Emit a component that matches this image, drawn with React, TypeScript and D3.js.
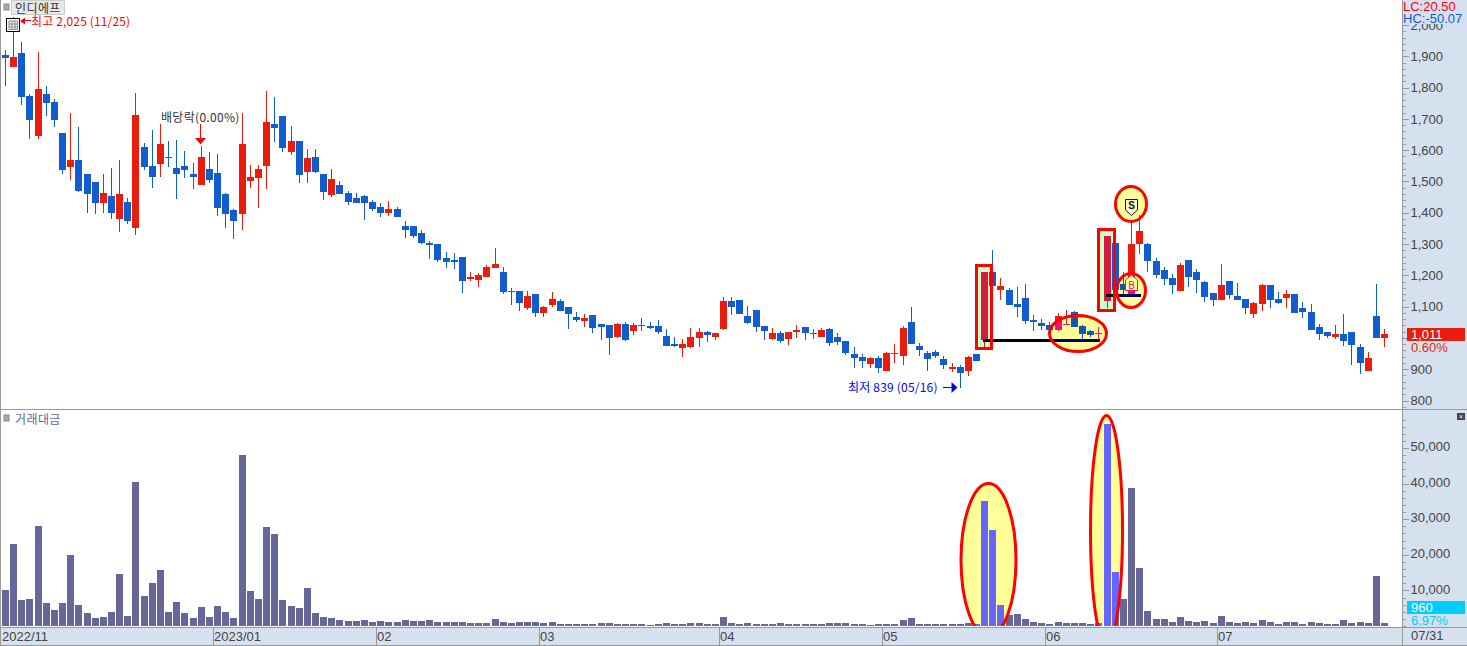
import React, { useEffect, useRef } from 'react'
import * as d3 from 'd3'

const highs = [
  1920,2025,1946,1780,1914,1805,1764,1655,1719,1674,
  1524,1498,1524,1543,1569,1447,1783,1623,1664,1683,
  1629,1632,1597,1559,1613,1594,1588,1463,1412,1719,
  1553,1553,1789,1770,1709,1677,1629,1604,1604,1524,
  1540,1501,1469,1463,1457,1441,1431,1437,1418,1373,
  1357,1345,1310,1300,1274,1271,1258,1210,1207,1233,
  1287,1226,1159,1150,1150,1140,1102,1147,1124,1099,
  1083,1076,1073,1044,1041,1048,1051,1048,1064,1051,
  1057,1028,1003,996,1032,1032,1022,1016,1131,1131,
  1121,1102,1089,1038,1032,1022,1019,1041,1035,1028,
  1032,1032,1016,990,971,948,939,942,955,980,
  1038,1099,984,958,961,942,920,913,942,948,
  1211,1281,1191,1159,1163,1172,1073,1060,1051,1080,
  1089,1086,1041,1025,1035,1326,1303,1212,1371,1393,
  1303,1255,1226,1204,1239,1249,1220,1182,1143,1236,
  1182,1175,1124,1115,1172,1169,1147,1153,1140,1115,
  1108,1044,1019,1041,1076,1019,980,955,1172,1028,
]
const lows = [
  1805,1866,1745,1636,1636,1709,1674,1524,1505,1467,
  1399,1396,1399,1380,1338,1364,1329,1536,1479,1514,
  1546,1444,1511,1476,1489,1495,1389,1351,1316,1345,
  1479,1415,1476,1626,1594,1585,1495,1495,1527,1441,
  1450,1460,1425,1431,1377,1405,1386,1389,1386,1319,
  1319,1300,1252,1242,1223,1220,1143,1182,1163,1195,
  1223,1140,1105,1086,1089,1067,1067,1099,1086,1028,
  1051,1035,1016,993,945,1000,990,1009,1022,1028,
  1012,974,971,939,968,971,987,993,1025,1073,
  1076,1044,1019,993,993,984,977,1000,993,996,
  1003,974,977,945,904,904,904,888,894,920,
  913,980,942,894,936,900,891,839,878,926,
  972,1166,1121,1105,1067,1044,1022,1025,1022,1022,
  1041,1035,993,1003,993,1096,1153,1134,1140,1268,
  1211,1191,1169,1140,1150,1163,1143,1115,1102,1121,
  1124,1121,1076,1063,1086,1095,1108,1095,1079,1063,
  1025,993,1000,996,974,913,885,894,1000,971,
]
const opens = [
  1904,1866,1911,1773,1645,1780,1754,1655,1546,1569,
  1524,1498,1431,1454,1380,1434,1351,1610,1549,1556,
  1578,1543,1549,1524,1489,1540,1527,1460,1409,1396,
  1501,1511,1549,1684,1709,1594,1629,1530,1578,1524,
  1457,1489,1463,1447,1453,1434,1418,1399,1412,1357,
  1357,1335,1303,1300,1255,1249,1258,1188,1185,1195,
  1223,1211,1150,1150,1095,1140,1080,1105,1118,1099,
  1067,1054,1073,1044,1041,1003,1044,1022,1038,1038,
  1038,1006,980,968,971,1000,1019,1003,1028,1118,
  1121,1070,1089,1038,996,1016,996,1019,1035,1013,
  1003,1028,1003,990,948,939,916,936,894,948,
  942,1051,974,952,955,932,900,907,894,948,
  993,1211,1153,1153,1108,1127,1057,1048,1041,1025,
  1041,1083,1038,1022,1014,1118,1303,1172,1140,1300,
  1300,1246,1217,1191,1150,1249,1211,1179,1143,1121,
  1182,1134,1124,1076,1108,1169,1124,1127,1140,1095,
  1083,1035,1019,1003,1012,1019,971,894,1070,1000,
]
const closes = [
  1895,1898,1770,1697,1796,1751,1697,1537,1569,1470,
  1460,1431,1463,1399,1460,1374,1712,1546,1514,1620,
  1576,1524,1536,1514,1578,1505,1415,1396,1374,1620,
  1514,1540,1690,1671,1607,1629,1521,1575,1530,1467,
  1508,1460,1434,1431,1431,1412,1399,1412,1386,1345,
  1326,1303,1297,1249,1242,1242,1182,1195,1201,1226,
  1236,1147,1147,1111,1134,1080,1099,1124,1086,1076,
  1057,1064,1032,1035,1000,1044,993,1041,1041,1032,
  1019,974,974,980,1003,1019,1009,1016,1118,1099,
  1076,1048,1035,1022,1016,990,1019,1025,1016,1016,
  1025,984,987,952,936,926,936,904,952,952,
  1032,980,961,932,942,913,907,888,939,926,
  1211,1166,1166,1105,1099,1054,1051,1038,1025,1070,
  1045,1035,1012,1009,1016,1326,1153,1153,1300,1342,
  1246,1201,1188,1169,1233,1195,1185,1131,1121,1169,
  1137,1121,1095,1111,1169,1121,1111,1140,1079,1083,
  1025,1012,1006,1012,990,977,920,936,1000,1011,
]
const volumes = [
  10140,23100,7320,7600,28170,6480,4500,6480,20000,5920,
  3660,2250,2535,3940,14650,2820,40560,8450,12110,15780,
  3940,6760,3660,2250,5350,2535,5630,3940,2250,48170,
  9860,7600,27890,25900,7320,5630,5070,10700,3660,2535,
  2250,1690,1410,1410,1690,1130,1410,1130,1130,1690,
  1410,1410,1690,1130,1130,1130,1130,845,845,845,
  1970,1130,845,1130,1130,1130,845,1130,563,563,
  563,563,563,845,845,563,563,563,563,280,
  563,845,563,563,845,845,563,563,2535,845,
  563,845,563,563,563,845,563,563,563,563,
  563,845,845,845,563,563,280,563,563,563,
  1690,2250,563,563,563,563,563,563,845,563,
  35210,27040,5920,3100,3380,1970,1130,845,563,1130,
  845,845,845,563,845,56620,15210,7600,38870,16340,
  4230,1970,1970,1130,2535,1410,1130,1410,845,2817,
  1130,845,1130,845,1690,1130,563,1130,1130,563,
  1130,845,563,563,1690,845,1130,845,14085,960,
]

const monthStarts = [0, 26, 46, 66, 88, 108, 128, 149]
const monthLabels = ['2022/11', '2023/01', '02', '03', '04', '05', '06', '07']
const priceMajor = d3.range(800, 2001, 100)
const priceMinor = d3.range(780, 2001, 20)
const volumeMajor = d3.range(10000, 50001, 10000)
const volumeMinor = d3.range(0, 58001, 2000)
const supportLines = [
  { from: 120, to: 134, value: 992 },
  { from: 135, to: 139, value: 1136 },
]

const W = 1467
const H = 646
const AXIS_X = 1402
const PANEL = '#d6e1ef'
const GRID = '#999999'
const TXT = '#444444'
const RED = '#ea1c0c'
const BLUE = '#115cce'
const FONT_NUM = '"Liberation Sans Narrow", "Liberation Sans", sans-serif'
const FONT_KR = '"Noto Sans CJK KR", sans-serif'

const xScale = d3.scaleLinear().domain([0, 169]).range([5.4, 1384.5])
const yPrice = d3.scaleLinear().domain([800, 2000]).range([400.5, 25])
const yVolume = d3.scaleLinear().domain([0, 50000]).range([626, 448])

const col = (i: number) => Math.floor(xScale(i))

const Candles = ({ up, down, line, clip }: { up: string, down: string, line: string, clip?: string }) => (
  <g clipPath={clip} shapeRendering="crispEdges">
    {highs.map((h, i) => {
      const c = col(i)
      const color = closes[i] >= opens[i] ? up : down
      const top = yPrice(Math.max(opens[i], closes[i]))
      const bottom = yPrice(Math.min(opens[i], closes[i]))
      return (
        <g key={i} fill={color}>
          <rect x={c} y={yPrice(h)} width={1} height={yPrice(lows[i]) - yPrice(h)} />
          <rect x={c - 3} y={top} width={7} height={Math.max(bottom - top, 1)} />
        </g>
      )
    })}
    {supportLines.map((d, i) => (
      <rect key={i} x={xScale(d.from) - 1.5} y={yPrice(d.value) - 1.5}
        width={xScale(d.to) - xScale(d.from) + 3} height={3} fill={line} />
    ))}
  </g>
)

const Bars = ({ color, clip }: { color: string, clip?: string }) => (
  <g clipPath={clip} fill={color} shapeRendering="crispEdges">
    {volumes.map((v, i) => (
      <rect key={i} x={col(i) - 3} y={yVolume(v)} width={7} height={yVolume(0) - yVolume(v)} />
    ))}
  </g>
)

export default function App() {
  const priceAxis = useRef<SVGGElement>(null)
  const volumeAxis = useRef<SVGGElement>(null)

  useEffect(() => {
    const draw = (node: SVGGElement | null, scale: any, major: number[], minor: number[], format: any, shift: number) => {
      const g = d3.select(node)
      g.selectAll('*').remove()
      const small = g.append('g').call(d3.axisRight(scale).tickValues(minor).tickSize(3).tickFormat(() => ''))
      const big = g.append('g').call(
        d3.axisRight(scale).tickValues(major).tickSize(6).tickPadding(2).tickFormat(format)
      )
      small.select('.domain').remove()
      big.select('.domain').remove()
      g.selectAll('line').attr('stroke', GRID).attr('shape-rendering', 'crispEdges')
      big.selectAll('text')
        .attr('y', shift)
        .attr('fill', TXT)
        .attr('font-family', FONT_NUM)
        .attr('font-size', 13)
    }
    // the 1,000 label sits under the last price badge, so it is not shown
    const priceFormat = (d: number) => (d === 1000 ? '' : d3.format(',')(d))
    draw(priceAxis.current, yPrice, priceMajor, priceMinor, priceFormat, 0)
    draw(volumeAxis.current, yVolume, volumeMajor, volumeMinor, d3.format(','), -1.5)
  }, [])

  return (
    <svg width={W} height={H} style={{ position: 'absolute', left: 0, top: 0 }}>
      <defs>
        <clipPath id="zoneGreen">
          <rect x={975} y={264} width={18} height={86} />
          <rect x={1097} y={228} width={19} height={84} />
        </clipPath>
        <clipPath id="zoneYellow">
          <ellipse cx={1078} cy={333.5} rx={30} ry={19.5} />
          <ellipse cx={1131} cy={204} rx={17} ry={19} />
          <ellipse cx={1131} cy={290.5} rx={16} ry={18.5} />
        </clipPath>
        <clipPath id="volBody">
          <ellipse cx={988.5} cy={560} rx={29} ry={78} />
          <ellipse cx={1106.5} cy={530} rx={17.5} ry={116} />
        </clipPath>
        <clipPath id="volArea">
          <rect x={0} y={410} width={AXIS_X} height={216} />
        </clipPath>
      </defs>

      <rect width={W} height={H} fill="#ffffff" />
      <rect x={AXIS_X} width={W - AXIS_X} height={H} fill={PANEL} />
      <rect y={627} width={W} height={18} fill={PANEL} />

      {/* highlight fills go under the candles */}
      <g fill="#ccffcc">
        <rect x={975} y={264} width={18} height={86} />
        <rect x={1097} y={228} width={19} height={84} />
      </g>
      <g fill="#ffff99">
        <ellipse cx={1078} cy={333.5} rx={30} ry={19.5} />
        <ellipse cx={1131} cy={204} rx={17} ry={19} />
        <ellipse cx={1131} cy={290.5} rx={16} ry={18.5} />
      </g>
      <g clipPath="url(#volArea)">
        <ellipse cx={988.5} cy={560} rx={29} ry={78} fill="#ffff99" />
        <ellipse cx={1106.5} cy={530} rx={17.5} ry={116} fill="#ffff99" />
      </g>

      <Candles up={RED} down={BLUE} line="#000000" />
      <Candles up="#d61a3c" down={BLUE} line="#000000" clip="url(#zoneGreen)" />
      <Candles up="#e8186c" down="#1058b4" line="#000066" clip="url(#zoneYellow)" />

      <Bars color="#666699" />
      <Bars color="#6666ff" clip="url(#volBody)" />

      {/* outlines on top */}
      <g fill="none" stroke="#ff0000" strokeWidth={3}>
        <rect x={976.5} y={265.5} width={15} height={83} />
        <rect x={1098.5} y={229.5} width={16} height={81} />
        <ellipse cx={1078} cy={333.5} rx={28.5} ry={18} />
        <ellipse cx={1131} cy={204} rx={15.5} ry={17.5} />
        <ellipse cx={1131} cy={290.5} rx={14.5} ry={17} />
        <g clipPath="url(#volArea)">
          <ellipse cx={988.5} cy={560} rx={27.5} ry={76.5} />
          <ellipse cx={1106.5} cy={530} rx={16} ry={114.5} />
        </g>
      </g>

      {/* S / B signals */}
      <path d="M1125.5 199.5 H1137.5 V210 L1131.5 215.5 L1125.5 210 Z" fill="#ffff99" stroke="#000080" />
      <text x={1131.5} y={205.5} textAnchor="middle" dominantBaseline="central" fontSize={10}
        fontWeight="bold" fontFamily="Liberation Sans" fill="#000080">S</text>
      <path d="M1125.5 290.5 H1137.5 V280 L1131.5 275 L1125.5 280 Z" fill="#ffff99" stroke="#e8186c" />
      <text x={1131.5} y={285} textAnchor="middle" dominantBaseline="central" fontSize={10}
        fontFamily="Liberation Sans" fill="#e8186c">B</text>

      {/* frame */}
      <g fill={GRID} shapeRendering="crispEdges">
        <rect x={0} y={0} width={1} height={H} />
        <rect x={AXIS_X} y={0} width={1} height={H} />
        <rect x={0} y={409} width={W} height={1} />
        <rect x={0} y={627} width={W} height={1} />
        <rect x={0} y={645} width={W} height={1} />
        {monthStarts.slice(1).map(i => (
          <rect key={i} x={col(i) - 4} y={627} width={1} height={18} />
        ))}
      </g>

      <g ref={priceAxis} transform={`translate(${AXIS_X + 0.5},0)`} />
      <g ref={volumeAxis} transform={`translate(${AXIS_X + 0.5},0)`} />

      {monthLabels.map((d, i) => (
        <text key={d} x={i === 0 ? 2 : col(monthStarts[i]) - 3} y={636} dominantBaseline="central"
          fontFamily={FONT_NUM} fontSize={13} fill={TXT}>{d}</text>
      ))}
      <text x={1411} y={635} dominantBaseline="central" fontFamily={FONT_NUM} fontSize={13} fill={TXT}>07/31</text>

      {/* top right labels, they cover the 2,000 tick */}
      <rect x={AXIS_X + 1} y={0} width={W - AXIS_X} height={24} fill={PANEL} />
      <text x={1403} y={6} dominantBaseline="central" fontFamily={FONT_NUM} fontSize={13} fill="#ff0000">LC:20.50</text>
      <text x={1403} y={18} dominantBaseline="central" fontFamily={FONT_NUM} fontSize={13} fill="#1159cf">HC:-50.07</text>

      {/* last price and volume */}
      <rect x={1407} y={yPrice(closes[169]) - 6.5} width={58} height={13} fill={RED} />
      <text x={1411} y={yPrice(closes[169])} dominantBaseline="central" fontFamily={FONT_NUM} fontSize={13} fill="#ffffff">1,011</text>
      <text x={1411} y={347} dominantBaseline="central" fontFamily={FONT_NUM} fontSize={13} fill={RED}>0.60%</text>
      <rect x={1407} y={601} width={58} height={13} fill="#00ccff" />
      <text x={1411} y={607.5} dominantBaseline="central" fontFamily={FONT_NUM} fontSize={13} fill="#ffffff">960</text>
      <text x={1411} y={620} dominantBaseline="central" fontFamily={FONT_NUM} fontSize={13} fill="#00ccff">6.97%</text>
      <rect x={1457} y={413} width={8} height={7} fill="#444444" />
      <text x={1461} y={416.5} textAnchor="middle" dominantBaseline="central" fontFamily="Liberation Sans" fontSize={7} fill="#ffffff">×</text>

      {/* title and panel heads */}
      <rect x={4} y={4} width={5} height={6} fill="#aaaaaa" stroke="#888888" />
      <rect x={11.5} y={0.5} width={53} height={14} fill="#e8e8e8" stroke="#cccccc" />
      <text x={15} y={7} dominantBaseline="central" fontFamily={FONT_KR} fontSize={12} letterSpacing={0.4} fill="#333333">인디에프</text>
      <rect x={4} y={415} width={5} height={6} fill="#aaaaaa" stroke="#888888" />
      <text x={15} y={418} dominantBaseline="central" fontFamily={FONT_KR} fontSize={12} letterSpacing={0.4} fill="#666699">거래대금</text>

      {/* table icon */}
      <rect x={6.5} y={18.5} width={13} height={13} fill="#ffffff" stroke="#000000" />
      <path d="M9 21 H17.5 V29.5 H9 Z M9 24 H17.5 M9 27 H17.5 M12 21 V29.5 M15 21 V29.5" fill="none" stroke="#888888" />

      {/* high / low / ex-dividend notes */}
      <path d="M20 21 L25 17.5 V24.5 Z" fill="#ff0000" />
      <rect x={24} y={20} width={7} height={1} fill="#ff0000" />
      <text x={31} y={20} dominantBaseline="central" fontFamily={FONT_KR} fontSize={12} letterSpacing={0.15} fill="#ff0000">최고 2,025 (11/25)</text>

      <text x={161} y={116} dominantBaseline="central" fontFamily={FONT_KR} fontSize={12} letterSpacing={0.3} fill="#333333">배당락(0.00%)</text>
      <rect x={200} y={124} width={1} height={15} fill="#ff0000" />
      <path d="M195 138 H206 L200.5 144.5 Z" fill="#ff0000" />

      <text x={848} y={386} dominantBaseline="central" fontFamily={FONT_KR} fontSize={12} letterSpacing={0.2} fill="#0000ff">최저 839 (05/16)</text>
      <rect x={943} y={387} width={9} height={1} fill="#0000ff" />
      <path d="M957.5 387.5 L951.5 382 V393 Z" fill="#0000ff" />
    </svg>
  )
}
